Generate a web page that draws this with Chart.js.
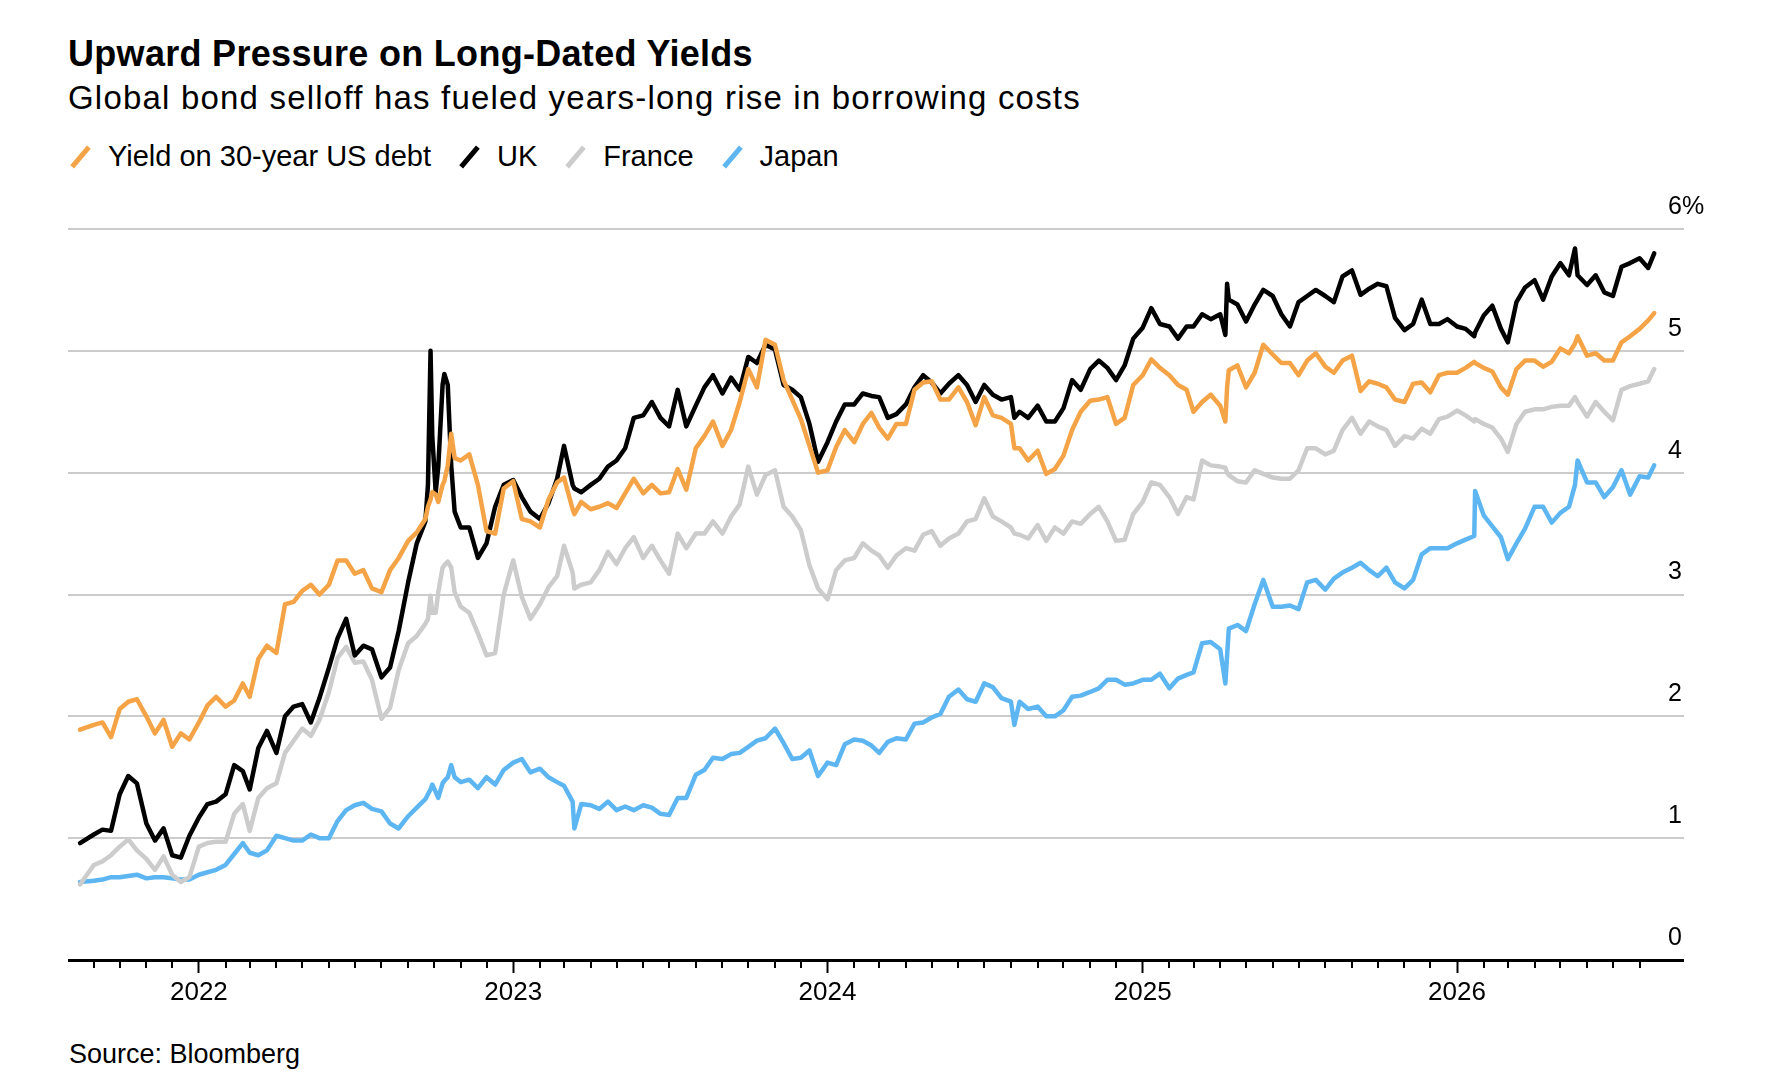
<!DOCTYPE html>
<html>
<head>
<meta charset="utf-8">
<title>Upward Pressure on Long-Dated Yields</title>
<script src="https://cdn.jsdelivr.net/npm/chart.js@4.4.1/dist/chart.umd.min.js"></script>
<style>
  html, body { margin: 0; padding: 0; background: #fff; }
  body { width: 1778px; height: 1072px; position: relative; overflow: hidden;
         font-family: 'Liberation Sans', Arial, Helvetica, sans-serif; color: #000; }
  .title { position: absolute; left: 68px; top: 36px; font-size: 36px; font-weight: bold;
           line-height: 1; white-space: nowrap; letter-spacing: 0.3px; }
  .subtitle { position: absolute; left: 68px; top: 81px; font-size: 33px; line-height: 1;
              white-space: nowrap; letter-spacing: 1.2px; }
  .legend { position: absolute; left: 70px; top: 142px; font-size: 29px; line-height: 1;
            display: flex; white-space: nowrap; }
  .legend .item { display: flex; align-items: center; margin-right: 28px; }
  .legend .mark { display: inline-block; width: 5px; height: 26px; margin: 0 25px 0 8px;
                  transform: rotate(40deg); }
  .source { position: absolute; left: 69px; top: 1041px; font-size: 27px; line-height: 1; white-space: nowrap; }
  #wrap { position: absolute; left: 0; top: 180px; width: 1778px; height: 840px; }
</style>
</head>
<body>
<div class="title">Upward Pressure on Long-Dated Yields</div>
<div class="subtitle">Global bond selloff has fueled years-long rise in borrowing costs</div>
<div class="legend" id="legend"></div>
<div id="wrap"><canvas id="chart" width="1778" height="840"></canvas></div>
<div class="source">Source: Bloomberg</div>
<script>
// sample dates (roughly every ten days, plus a few extra around sharp moves)
const dates = [
  '2021-08-16','2021-09-01','2021-09-11','2021-09-21','2021-10-01','2021-10-11','2021-10-21','2021-11-01','2021-11-11','2021-11-21','2021-12-01','2021-12-11','2021-12-21',
  '2022-01-01','2022-01-11','2022-01-21','2022-02-01','2022-02-11','2022-02-21','2022-03-01','2022-03-11','2022-03-21','2022-04-01','2022-04-11','2022-04-21','2022-05-01','2022-05-11','2022-05-21','2022-06-01','2022-06-11','2022-06-21','2022-07-01','2022-07-11','2022-07-21','2022-08-01','2022-08-11','2022-08-21','2022-09-01','2022-09-11','2022-09-21','2022-09-24','2022-09-27','2022-09-29','2022-10-03','2022-10-06','2022-10-11','2022-10-13','2022-10-17','2022-10-21','2022-10-25','2022-11-01','2022-11-11','2022-11-21','2022-12-01','2022-12-11','2022-12-21',
  '2023-01-01','2023-01-11','2023-01-21','2023-02-01','2023-02-11','2023-02-21','2023-03-01','2023-03-11','2023-03-13','2023-03-21','2023-04-01','2023-04-11','2023-04-21','2023-05-01','2023-05-11','2023-05-21','2023-06-01','2023-06-11','2023-06-21','2023-07-01','2023-07-11','2023-07-21','2023-08-01','2023-08-11','2023-08-21','2023-09-01','2023-09-11','2023-09-21','2023-10-01','2023-10-11','2023-10-21','2023-11-01','2023-11-11','2023-11-21','2023-12-01','2023-12-11','2023-12-21',
  '2024-01-01','2024-01-11','2024-01-21','2024-02-01','2024-02-11','2024-02-21','2024-03-01','2024-03-11','2024-03-21','2024-04-01','2024-04-11','2024-04-21','2024-05-01','2024-05-11','2024-05-21','2024-06-01','2024-06-11','2024-06-21','2024-07-01','2024-07-11','2024-07-21','2024-08-01','2024-08-05','2024-08-11','2024-08-21','2024-09-01','2024-09-11','2024-09-21','2024-10-01','2024-10-11','2024-10-21','2024-11-01','2024-11-11','2024-11-21','2024-12-01','2024-12-11','2024-12-21',
  '2025-01-01','2025-01-11','2025-01-21','2025-02-01','2025-02-11','2025-02-21','2025-03-01','2025-03-11','2025-03-21','2025-04-01','2025-04-07','2025-04-09','2025-04-11','2025-04-21','2025-05-01','2025-05-11','2025-05-21','2025-06-01','2025-06-11','2025-06-21','2025-07-01','2025-07-11','2025-07-21','2025-08-01','2025-08-11','2025-08-21','2025-09-01','2025-09-11','2025-09-21','2025-10-01','2025-10-11','2025-10-21','2025-11-01','2025-11-11','2025-11-21','2025-12-01','2025-12-11','2025-12-21',
  '2026-01-01','2026-01-11','2026-01-21','2026-01-22','2026-02-01','2026-02-11','2026-02-21','2026-03-01','2026-03-11','2026-03-21','2026-04-01','2026-04-11','2026-04-21','2026-05-01','2026-05-11','2026-05-18','2026-05-21','2026-06-01','2026-06-11','2026-06-21','2026-07-01','2026-07-11','2026-07-21','2026-08-01','2026-08-11','2026-08-18'
];

// 30-year yields, %
const us = [
  1.89,1.93,1.95,1.83,2.06,2.12,2.14,2.00,1.86,1.97,1.75,1.86,1.81,
  1.95,2.09,2.16,2.08,2.13,2.27,2.16,2.47,2.58,2.52,2.92,2.94,3.03,3.08,3.00,3.08,3.28,3.28,3.17,3.20,3.05,3.02,3.20,3.30,3.44,3.51,3.62,3.72,3.78,3.84,3.82,3.76,3.90,3.93,4.06,4.32,4.12,4.10,4.15,3.90,3.52,3.50,3.87,
  3.93,3.62,3.60,3.55,3.78,3.92,3.96,3.70,3.66,3.76,3.70,3.72,3.75,3.71,3.83,3.95,3.83,3.90,3.83,3.84,4.03,3.86,4.20,4.30,4.42,4.22,4.35,4.58,4.85,4.70,5.09,5.05,4.76,4.60,4.44,4.22,4.00,
  4.02,4.21,4.35,4.25,4.40,4.49,4.37,4.28,4.40,4.40,4.68,4.74,4.75,4.60,4.60,4.70,4.58,4.39,4.62,4.47,4.45,4.40,4.20,4.20,4.10,4.18,3.99,4.03,4.14,4.35,4.50,4.59,4.60,4.62,4.40,4.45,4.72,
  4.80,4.93,4.86,4.80,4.72,4.68,4.50,4.58,4.64,4.55,4.42,4.70,4.84,4.88,4.70,4.82,5.05,4.97,4.90,4.90,4.80,4.92,4.98,4.87,4.82,4.92,4.96,4.67,4.75,4.73,4.70,4.60,4.58,4.73,4.74,4.66,4.80,4.82,
  4.82,4.86,4.91,4.90,4.86,4.83,4.70,4.64,4.85,4.92,4.92,4.87,4.91,5.02,4.98,5.06,5.12,4.96,4.98,4.92,4.92,5.07,5.12,5.18,5.25,5.31
];
const uk = [
  0.96,1.03,1.07,1.06,1.36,1.51,1.45,1.12,0.98,1.08,0.86,0.84,1.02,
  1.17,1.28,1.30,1.36,1.60,1.55,1.40,1.74,1.88,1.70,2.00,2.08,2.10,1.95,2.15,2.40,2.64,2.80,2.50,2.58,2.55,2.32,2.40,2.70,3.10,3.42,3.60,3.90,5.00,4.30,3.84,4.05,4.72,4.81,4.72,4.06,3.68,3.55,3.55,3.30,3.42,3.72,3.90,
  3.94,3.80,3.68,3.62,3.75,3.95,4.22,3.90,3.87,3.84,3.90,3.95,4.05,4.10,4.20,4.45,4.47,4.58,4.45,4.38,4.68,4.38,4.55,4.70,4.80,4.65,4.78,4.68,4.95,4.90,5.05,5.01,4.72,4.68,4.62,4.40,4.09,
  4.25,4.42,4.56,4.56,4.65,4.63,4.62,4.45,4.48,4.56,4.70,4.80,4.74,4.65,4.73,4.80,4.72,4.58,4.72,4.64,4.60,4.62,4.45,4.50,4.45,4.55,4.42,4.42,4.53,4.76,4.68,4.85,4.92,4.86,4.76,4.88,5.10,
  5.19,5.35,5.22,5.20,5.10,5.20,5.20,5.30,5.26,5.30,5.13,5.55,5.42,5.38,5.24,5.38,5.50,5.45,5.30,5.20,5.40,5.45,5.50,5.45,5.40,5.61,5.66,5.46,5.51,5.55,5.53,5.27,5.17,5.22,5.42,5.22,5.22,5.26,
  5.20,5.18,5.12,5.15,5.29,5.37,5.18,5.07,5.40,5.52,5.58,5.42,5.61,5.72,5.62,5.84,5.62,5.54,5.62,5.48,5.45,5.69,5.72,5.76,5.68,5.80
];
const france = [
  0.62,0.78,0.81,0.86,0.93,0.99,0.90,0.83,0.74,0.85,0.70,0.64,0.68,
  0.93,0.96,0.97,0.97,1.20,1.28,1.06,1.33,1.41,1.45,1.70,1.80,1.90,1.84,1.97,2.20,2.48,2.57,2.44,2.45,2.30,1.98,2.07,2.38,2.60,2.66,2.76,2.80,2.99,2.85,2.85,3.02,3.22,3.24,3.27,3.22,3.02,2.90,2.85,2.68,2.50,2.52,3.00,
  3.28,2.98,2.80,2.92,3.06,3.15,3.40,3.18,3.05,3.08,3.10,3.20,3.35,3.25,3.38,3.47,3.30,3.40,3.28,3.17,3.50,3.38,3.50,3.50,3.60,3.50,3.64,3.74,4.05,3.82,3.98,4.02,3.72,3.64,3.53,3.24,3.05,
  2.96,3.20,3.28,3.30,3.42,3.36,3.32,3.22,3.32,3.38,3.36,3.49,3.52,3.40,3.46,3.50,3.60,3.62,3.79,3.64,3.60,3.55,3.50,3.49,3.46,3.57,3.44,3.55,3.50,3.60,3.58,3.66,3.72,3.60,3.44,3.45,3.66,
  3.76,3.92,3.90,3.80,3.66,3.80,3.78,4.10,4.06,4.05,4.04,4.00,3.98,3.93,3.92,4.02,3.99,3.96,3.95,3.95,4.02,4.20,4.20,4.15,4.18,4.35,4.45,4.32,4.42,4.38,4.35,4.22,4.30,4.28,4.36,4.32,4.44,4.46,
  4.51,4.47,4.42,4.44,4.40,4.37,4.28,4.17,4.40,4.50,4.52,4.52,4.54,4.55,4.55,4.62,4.58,4.46,4.58,4.50,4.43,4.68,4.71,4.73,4.75,4.85
];
const japan = [
  0.64,0.65,0.66,0.68,0.68,0.69,0.70,0.67,0.68,0.68,0.67,0.66,0.66,
  0.70,0.72,0.74,0.78,0.87,0.96,0.88,0.86,0.90,1.02,1.00,0.98,0.98,1.03,1.00,1.00,1.14,1.23,1.27,1.29,1.24,1.22,1.12,1.08,1.18,1.25,1.32,1.36,1.40,1.44,1.38,1.33,1.45,1.47,1.50,1.60,1.50,1.46,1.48,1.41,1.50,1.44,1.56,
  1.62,1.65,1.54,1.57,1.50,1.46,1.43,1.30,1.08,1.28,1.27,1.24,1.30,1.23,1.26,1.23,1.27,1.25,1.20,1.19,1.33,1.33,1.52,1.56,1.66,1.65,1.69,1.70,1.75,1.80,1.82,1.90,1.78,1.65,1.66,1.72,1.51,
  1.62,1.60,1.77,1.81,1.80,1.76,1.70,1.79,1.82,1.81,1.94,1.95,1.99,2.02,2.16,2.22,2.14,2.12,2.27,2.24,2.15,2.12,1.93,2.12,2.06,2.08,2.00,2.00,2.05,2.16,2.17,2.20,2.23,2.30,2.30,2.26,2.27,
  2.30,2.30,2.35,2.23,2.31,2.34,2.36,2.60,2.61,2.55,2.27,2.50,2.72,2.75,2.70,2.92,3.12,2.90,2.90,2.91,2.88,3.10,3.12,3.04,3.13,3.18,3.22,3.26,3.20,3.15,3.22,3.10,3.05,3.12,3.33,3.38,3.38,3.38,
  3.42,3.45,3.48,3.85,3.65,3.56,3.47,3.29,3.42,3.54,3.72,3.72,3.59,3.67,3.72,3.90,4.10,3.92,3.92,3.80,3.88,4.02,3.82,3.97,3.96,4.06
];

const yearTicks = [2022, 2023, 2024, 2025, 2026];
const yTicks = [0, 1, 2, 3, 4, 5, 6];

const series = [
  { label: 'Yield on 30-year US debt', values: us, color: '#f4a446' },
  { label: 'UK', values: uk, color: '#000000' },
  { label: 'France', values: france, color: '#cccccc' },
  { label: 'Japan', values: japan, color: '#5db6f2' }
];

// legend row above the chart
const legend = document.getElementById('legend');
series.forEach(s => {
  const item = document.createElement('div');
  item.className = 'item';
  item.innerHTML = `<span class="mark" style="background:${s.color}"></span><span>${s.label}</span>`;
  legend.appendChild(item);
});

const toPoints = vals => vals.map((v, i) => ({ x: Date.parse(dates[i]), y: v }));

// short monthly ticks under the axis; the long year ticks come from the scale itself
const monthTicks = {
  id: 'monthTicks',
  afterDraw(chart) {
    const x = chart.scales.x;
    const ctx = chart.ctx;
    const bottom = chart.chartArea.bottom;
    ctx.save();
    ctx.strokeStyle = '#000';
    ctx.lineWidth = 2;
    for (let y = 2021; y <= 2026; y++) {
      for (let m = 1; m < 12; m++) {
        const v = Date.UTC(y, m, 1);
        if (v <= x.min || v > Date.UTC(2026, 7, 1)) continue;
        const px = Math.round(x.getPixelForValue(v));
        ctx.beginPath();
        ctx.moveTo(px, bottom);
        ctx.lineTo(px, bottom + 8);
        ctx.stroke();
      }
    }
    ctx.restore();
  }
};

Chart.defaults.font.family = "'Liberation Sans', Arial, Helvetica, sans-serif";
Chart.defaults.color = '#000';

const isZero = c => c.tick && c.tick.value === 0;

new Chart(document.getElementById('chart'), {
  type: 'line',
  data: {
    datasets: series.map(s => ({
      label: s.label,
      data: toPoints(s.values),
      borderColor: s.color,
      backgroundColor: s.color
    }))
  },
  options: {
    responsive: false,
    animation: false,
    layout: { padding: { left: 68, top: 49, right: 0, bottom: 0 } },
    elements: {
      point: { radius: 0 },
      line: { borderWidth: 4.5, tension: 0, borderJoinStyle: 'round', borderCapStyle: 'round' }
    },
    plugins: { legend: { display: false }, tooltip: { enabled: false } },
    scales: {
      x: {
        type: 'linear',
        min: Date.UTC(2021, 7, 2),
        max: Date.UTC(2026, 8, 3),
        afterBuildTicks: s => { s.ticks = yearTicks.map(y => ({ value: Date.UTC(y, 0, 1) })); },
        afterFit: s => { s.height = 60; },
        grid: { drawOnChartArea: false, drawTicks: true, tickLength: 13, tickColor: '#000', tickWidth: 2 },
        border: { display: false },
        ticks: {
          autoSkip: false, maxRotation: 0, padding: 4, font: { size: 26 },
          callback: v => String(new Date(v).getUTCFullYear())
        }
      },
      y: {
        position: 'right',
        min: 0,
        max: 6,
        afterBuildTicks: s => { s.ticks = yTicks.map(v => ({ value: v })); },
        afterFit: s => { s.width = 110; },
        grid: {
          drawTicks: true,
          tickLength: 16,
          lineWidth: c => isZero(c) ? 3 : 2,
          color: c => isZero(c) ? '#000000' : '#cccccc'
        },
        border: { display: false },
        ticks: {
          padding: -16, labelOffset: -22, crossAlign: 'near', font: { size: 25 },
          callback: v => v === 6 ? '6%' : String(v)
        }
      }
    }
  },
  plugins: [monthTicks]
});
</script>
</body>
</html>
